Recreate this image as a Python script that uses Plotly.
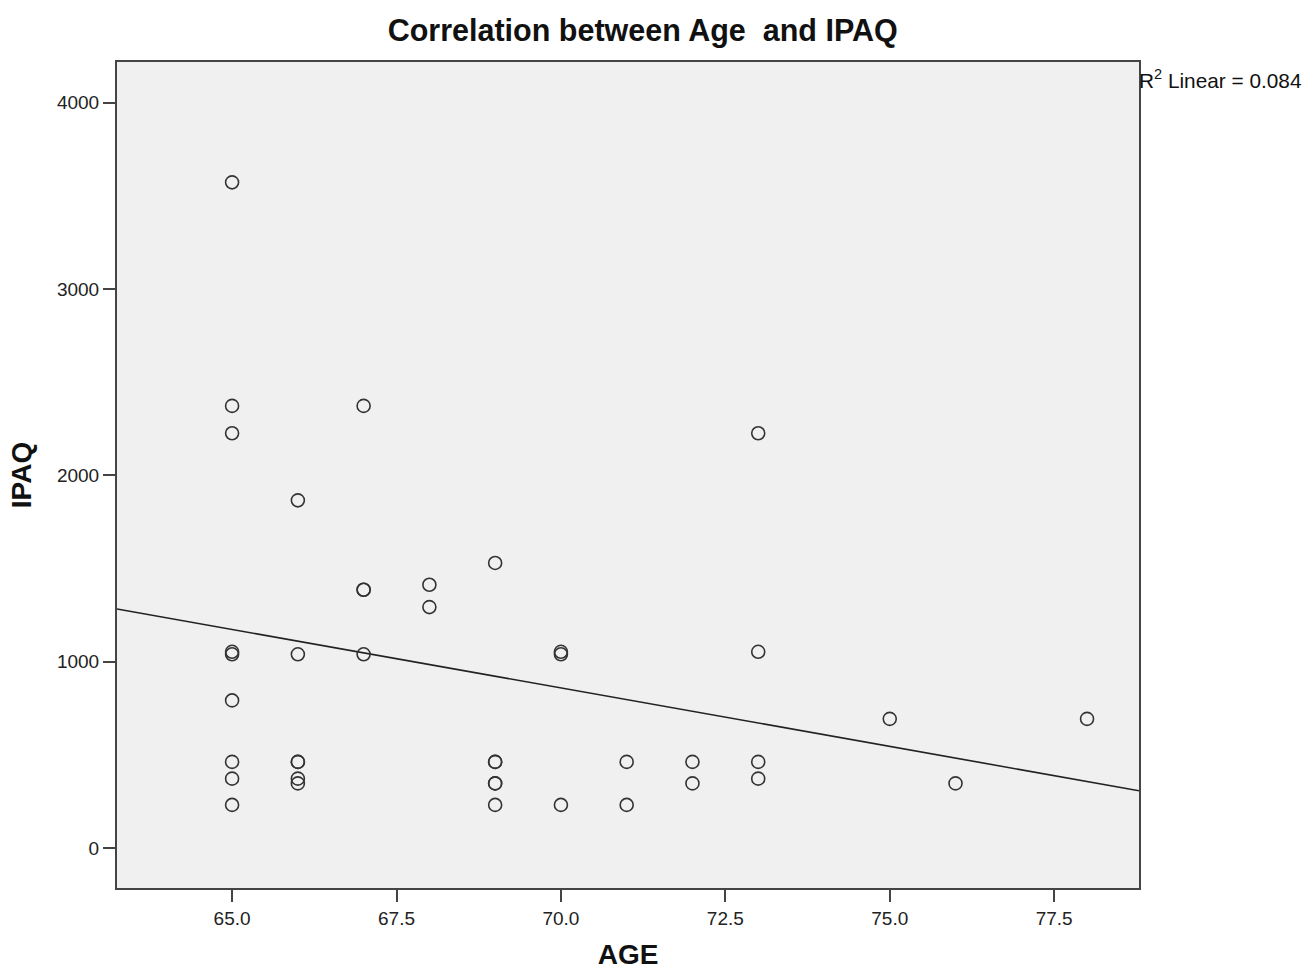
import numpy as np
import plotly.graph_objects as go

age = [65, 65, 65, 65, 65, 65, 65, 65, 65,
       66, 66, 66, 66, 66, 66,
       67, 67, 67, 67,
       68, 68,
       69, 69, 69, 69, 69, 69,
       70, 70, 70,
       71, 71,
       72, 72,
       73, 73, 73, 73,
       75, 76, 78]
ipaq = [3573, 2373, 2226, 1039.5, 1053, 792, 462, 372, 231,
        1866, 1039.5, 462, 462, 372, 346.5,
        2373, 1386, 1386, 1039.5,
        1413, 1293,
        1530, 462, 462, 346.5, 346.5, 231,
        1039.5, 1053, 231,
        462, 231,
        462, 346.5,
        2226, 1053, 462, 372,
        693, 346.5, 693]

x_range = [63.25, 78.79]
y_range = [-215, 4219]
x_ticks = [65.0, 67.5, 70.0, 72.5, 75.0, 77.5]
y_ticks = [0, 1000, 2000, 3000, 4000]
r2_text = "R<sup>2</sup> Linear = 0.084"

slope, intercept = np.polyfit(age, ipaq, 1)
line_x = np.array(x_range)
line_y = intercept + slope * line_x

font = "Liberation Sans, Arial, sans-serif"
fig = go.Figure()
fig.add_trace(go.Scatter(x=line_x, y=line_y, mode="lines",
                         line=dict(color="#222222", width=1.6), showlegend=False, hoverinfo="skip"))
fig.add_trace(go.Scatter(x=age, y=ipaq, mode="markers",
                         marker=dict(symbol="circle-open", size=13, color="#333333",
                                     line=dict(width=1.6, color="#333333")),
                         showlegend=False))

fig.update_layout(
    width=1305, height=970,
    margin=dict(l=117, r=166, t=62, b=82),
    paper_bgcolor="white", plot_bgcolor="#f0f0f0",
    font=dict(family=font, color="#222222", size=19),
    title=dict(text="<b>Correlation between Age  and IPAQ</b>", x=0.4925, xanchor="center",
               y=0.969, yanchor="middle", font=dict(size=30.5, color="#111111")),
    xaxis=dict(range=x_range, tickvals=x_ticks, ticktext=[f"{v:.1f}" for v in x_ticks],
               showgrid=False, zeroline=False, showline=True, linecolor="#444444", linewidth=2,
               mirror=True, ticks="outside", ticklen=12, tickwidth=2, tickcolor="#444444",
               tickfont=dict(size=19, color="#222222"), automargin=False,
               title=dict(text="<b>AGE</b>", font=dict(size=28, color="#111111"), standoff=21)),
    yaxis=dict(range=y_range, tickvals=y_ticks,
               showgrid=False, zeroline=False, showline=True, linecolor="#444444", linewidth=2,
               mirror=True, ticks="outside", ticklen=12, tickwidth=2, tickcolor="#444444",
               tickfont=dict(size=19, color="#222222"), automargin=False,
               title=dict(text="<b>IPAQ</b>", font=dict(size=28, color="#111111"), standoff=17)),
    annotations=[dict(text=r2_text, xref="paper", yref="paper", x=1.0, y=0.980,
                      xanchor="left", yanchor="middle", showarrow=False, xshift=-2,
                      font=dict(size=20.8, color="#111111"))],
)
fig.write_html("out.html")
